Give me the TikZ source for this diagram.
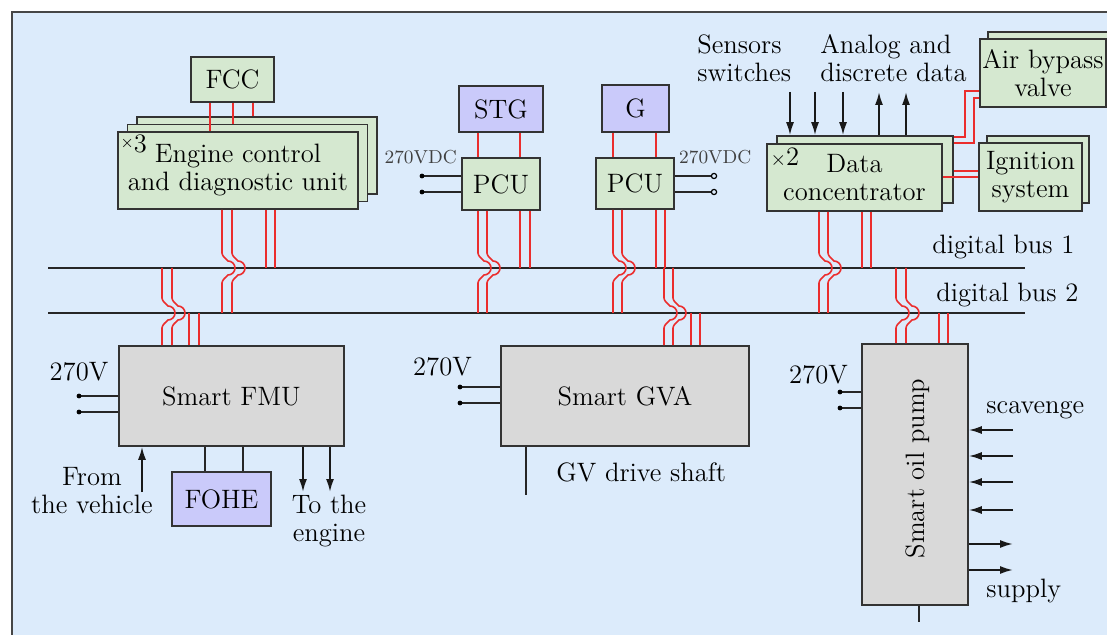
\documentclass[tikz,border=0pt]{standalone}
\usepackage{fontspec}
\usepackage{tikz}
\usetikzlibrary{arrows.meta,calc,positioning}

\definecolor{panelblue}{RGB}{220,235,251}
\definecolor{framegray}{RGB}{70,70,70}
\definecolor{boxgreen}{RGB}{213,232,208}
\definecolor{boxviolet}{RGB}{202,202,250}
\definecolor{boxgray}{RGB}{217,217,217}
\definecolor{linkred}{RGB}{235,45,45}

\tikzset{
  box/.style={draw=black!80,line width=0.8pt,inner sep=0pt,align=center,font=\fontsize{13.3}{14}\selectfont},
  greenbox/.style={box,fill=boxgreen},
  violetbox/.style={box,fill=boxviolet},
  graybox/.style={box,fill=boxgray},
  lbl/.style={inner sep=0pt,align=center,font=\fontsize{13.3}{14}\selectfont},
  smalllbl/.style={inner sep=0pt,font=\fontsize{9.4}{11}\selectfont,text=black!75},
  redline/.style={draw=linkred,line width=0.8pt},
  busline/.style={draw=black!85,line width=1.3pt},
  wire/.style={draw=black!85,line width=0.9pt},
  lead/.style={draw=black!85,line width=0.7pt},
  sigarrow/.style={draw=black!90,line width=0.9pt,-{Latex[length=6.5pt,width=4pt]}}
}

% red link that hops over a bus
\newcommand{\hopline}[4]{%
  \draw[redline] (#1,0 |- #2) -- ($(#1,0 |- #3)+(0,-15)$)
    .. controls +(0,3) and +(-2,-2) .. ++(6,8)
    arc[start angle=-90,end angle=90,radius=7]
    .. controls +(-2,2) and +(0,-3) .. ++(-6,8) -- (#1,0 |- #4);}

\begin{document}
\begin{tikzpicture}[x=0.5pt,y=-0.5pt]
\useasboundingbox (0,0) rectangle (1107,635);
\clip (0,0) rectangle (1107,635);
\filldraw[fill=panelblue,draw=framegray,line width=1pt] (12,12) rectangle (1140,660);

% buses
\coordinate (bus1w) at (48,268);
\coordinate (bus1e) at (1025,268);
\coordinate (bus2w) at (48,313);
\coordinate (bus2e) at (1025,313);
\draw[busline] (bus1w) -- (bus1e);
\draw[busline] (bus2w) -- (bus2e);
\node[lbl,anchor=west] (bus1lbl) at (932,247) {digital bus 1};
\node[lbl,anchor=west] (bus2lbl) at (936,295) {digital bus 2};

% engine control units
\node[greenbox,minimum width=41.5pt,minimum height=22.5pt] (fcc) at (232.5,79.5) {FCC};
\node[greenbox,minimum width=120pt,minimum height=38.5pt] (ecu3) at (257,155.5) {};
\node[greenbox,minimum width=120pt,minimum height=38.5pt] (ecu2) at (247.5,163) {};
\node[greenbox,minimum width=120pt,minimum height=38.5pt] (ecu1) at (238,170.5) {Engine control\\and diagnostic unit};
\node[lbl,anchor=north west,inner sep=1.5pt] (ecun) at (ecu1.north west) {\raisebox{0.45ex}{\fontsize{8}{8}\selectfont ×}3};

% starter generators
\node[violetbox,minimum width=42pt,minimum height=23pt] (stg) at (501,109) {STG};
\node[greenbox,minimum width=39pt,minimum height=26pt] (pcu1) at (501,184) {PCU};
\node[violetbox,minimum width=33.5pt,minimum height=23.5pt] (gen) at (635.5,108.5) {G};
\node[greenbox,minimum width=39pt,minimum height=25.5pt] (pcu2) at (635,183.5) {PCU};
\node[smalllbl,left=2pt of pcu1.north west] (pcu1v) {270VDC};
\node[smalllbl,right=2pt of pcu2.north east] (pcu2v) {270VDC};

% data concentrator
\node[greenbox,minimum width=88pt,minimum height=33.5pt] (dc2) at (865,169.5) {};
\node[greenbox,minimum width=87.5pt,minimum height=33.5pt] (dc1) at (854.5,177.5) {Data\\concentrator};
\node[lbl,anchor=north west,inner sep=2pt] (dcn) at (dc1.north west) {{\fontsize{10}{10}\selectfont ×}2};
\node[greenbox,minimum width=63pt,minimum height=34pt] (abv2) at (1051,66) {};
\node[greenbox,minimum width=63pt,minimum height=34pt] (abv1) at (1043,73) {Air bypass\\valve};
\node[greenbox,minimum width=51pt,minimum height=33.5pt] (ign2) at (1038,169.5) {};
\node[greenbox,minimum width=51.5pt,minimum height=34pt] (ign1) at (1030.5,177) {Ignition\\system};
\node[lbl,align=left,anchor=west] (senlbl) at (697,58) {Sensors\\switches};
\node[lbl,align=left,anchor=west] (analbl) at (820,58) {Analog and\\discrete data};

% smart actuators
\node[graybox,minimum width=112.5pt,minimum height=50pt] (fmu) at (231.5,396) {Smart FMU};
\node[violetbox,minimum width=49.5pt,minimum height=27pt] (fohe) at (221.5,499) {FOHE};
\node[graybox,minimum width=124pt,minimum height=50pt] (gva) at (625,396) {Smart GVA};
\node[graybox,minimum width=53pt,minimum height=130.5pt] (pump) at (915,474.5) {};
\node[lbl,rotate=90] (pumplbl) at ([shift={(1.5pt,3pt)}]pump.center) {Smart oil pump};

\node[lbl] (fmuv) at (79,372) {270V};
\node[lbl] (gvav) at (442.5,367) {270V};
\node[lbl] (pumpv) at (818.5,375) {270V};
\node[lbl] (vehlbl) at (92,491) {From\\the vehicle};
\node[lbl] (englbl) at (329,521) {To the\\engine};
\node[lbl,anchor=west] (shaftlbl) at (556,472) {GV drive shaft};
\node[lbl,anchor=west] (scavlbl) at (986,410) {scavenge};
\node[lbl,anchor=west] (suplbl) at (986,591) {supply};

% power leads
\coordinate (p1a) at (422,176);
\coordinate (p1b) at (422,192);
\coordinate (p2a) at (714,176);
\coordinate (p2b) at (714,192);
\coordinate (fva) at (79,396);
\coordinate (fvb) at (79,412);
\coordinate (gvva) at (460,387);
\coordinate (gvvb) at (460,403);
\coordinate (pva) at (840,392);
\coordinate (pvb) at (840,408);
\draw[lead] (p1a -| pcu1.west) -- (p1a);
\draw[lead] (p1b -| pcu1.west) -- (p1b);
\draw[lead] (p2a -| pcu2.east) -- (p2a);
\draw[lead] (p2b -| pcu2.east) -- (p2b);
\draw[lead] (fva -| fmu.west) -- (fva);
\draw[lead] (fvb -| fmu.west) -- (fvb);
\draw[lead] (gvva -| gva.west) -- (gvva);
\draw[lead] (gvvb -| gva.west) -- (gvvb);
\draw[lead] (pva -| pump.west) -- (pva);
\draw[lead] (pvb -| pump.west) -- (pvb);
\fill (p1a) circle (1.2pt);
\fill (p1b) circle (1.2pt);
\filldraw[fill=panelblue,line width=0.6pt] (p2a) circle (1.3pt);
\filldraw[fill=panelblue,line width=0.6pt] (p2b) circle (1.3pt);
\fill (fva) circle (1.2pt);
\fill (fvb) circle (1.2pt);
\fill (gvva) circle (1.2pt);
\fill (gvvb) circle (1.2pt);
\fill (pva) circle (1.2pt);
\fill (pvb) circle (1.2pt);

% signals
\coordinate (sen1) at (790,92);
\coordinate (sen2) at (815,92);
\coordinate (sen3) at (843,92);
\coordinate (ana1) at (879,92);
\coordinate (ana2) at (906,92);
\draw[sigarrow] (sen1) -- (sen1 |- dc2.north);
\draw[sigarrow] (sen2) -- (sen2 |- dc2.north);
\draw[sigarrow] (sen3) -- (sen3 |- dc2.north);
\draw[sigarrow] (ana1 |- dc2.north) -- (ana1);
\draw[sigarrow] (ana2 |- dc2.north) -- (ana2);

\coordinate (veh) at (142,492);
\coordinate (eng1) at (303,492);
\coordinate (eng2) at (330,492);
\draw[sigarrow] (veh) -- (veh |- fmu.south);
\draw[sigarrow] (eng1 |- fmu.south) -- (eng1);
\draw[sigarrow] (eng2 |- fmu.south) -- (eng2);
\draw[wire] (205,0 |- fmu.south) -- (205,0 |- fohe.north);
\draw[wire] (243,0 |- fmu.south) -- (243,0 |- fohe.north);

\coordinate (shaft) at (526,495);
\coordinate (stub) at (919,622);
\draw[wire] (shaft |- gva.south) -- (shaft);
\draw[wire] (stub |- pump.south) -- (stub);

\coordinate (sc1) at (1013,430);
\coordinate (sc2) at (1013,456);
\coordinate (sc3) at (1013,482);
\coordinate (sc4) at (1013,510);
\coordinate (su1) at (1013,544);
\coordinate (su2) at (1013,570);
\draw[sigarrow] (sc1) -- (sc1 -| pump.east);
\draw[sigarrow] (sc2) -- (sc2 -| pump.east);
\draw[sigarrow] (sc3) -- (sc3 -| pump.east);
\draw[sigarrow] (sc4) -- (sc4 -| pump.east);
\draw[sigarrow] (su1 -| pump.east) -- (su1);
\draw[sigarrow] (su2 -| pump.east) -- (su2);

% red links
\draw[redline] (210,0 |- fcc.south) -- (210,0 |- ecu1.north);
\draw[redline] (233,0 |- fcc.south) -- (233,0 |- ecu2.north);
\draw[redline] (253,0 |- fcc.south) -- (253,0 |- ecu3.north);
\hopline{222}{ecu1.south}{bus1w}{bus2w}
\hopline{232}{ecu1.south}{bus1w}{bus2w}
\draw[redline] (266,0 |- ecu1.south) -- (266,0 |- bus1w);
\draw[redline] (275,0 |- ecu1.south) -- (275,0 |- bus1w);
\hopline{162}{bus1w}{bus2w}{fmu.north}
\hopline{172}{bus1w}{bus2w}{fmu.north}
\draw[redline] (189,0 |- bus2w) -- (189,0 |- fmu.north);
\draw[redline] (199,0 |- bus2w) -- (199,0 |- fmu.north);

\draw[redline] (478,0 |- stg.south) -- (478,0 |- pcu1.north);
\draw[redline] (520,0 |- stg.south) -- (520,0 |- pcu1.north);
\hopline{478}{pcu1.south}{bus1w}{bus2w}
\hopline{487}{pcu1.south}{bus1w}{bus2w}
\draw[redline] (520,0 |- pcu1.south) -- (520,0 |- bus1w);
\draw[redline] (530,0 |- pcu1.south) -- (530,0 |- bus1w);

\draw[redline] (613,0 |- gen.south) -- (613,0 |- pcu2.north);
\draw[redline] (656,0 |- gen.south) -- (656,0 |- pcu2.north);
\hopline{613}{pcu2.south}{bus1w}{bus2w}
\hopline{622}{pcu2.south}{bus1w}{bus2w}
\draw[redline] (656,0 |- pcu2.south) -- (656,0 |- bus1w);
\draw[redline] (665,0 |- pcu2.south) -- (665,0 |- bus1w);
\hopline{664}{bus1w}{bus2w}{gva.north}
\hopline{673}{bus1w}{bus2w}{gva.north}
\draw[redline] (691,0 |- bus2w) -- (691,0 |- gva.north);
\draw[redline] (700,0 |- bus2w) -- (700,0 |- gva.north);

\hopline{819}{dc1.south}{bus1w}{bus2w}
\hopline{828}{dc1.south}{bus1w}{bus2w}
\draw[redline] (862,0 |- dc1.south) -- (862,0 |- bus1w);
\draw[redline] (871,0 |- dc1.south) -- (871,0 |- bus1w);
\hopline{896}{bus1w}{bus2w}{pump.north}
\hopline{906}{bus1w}{bus2w}{pump.north}
\draw[redline] (939,0 |- bus2w) -- (939,0 |- pump.north);
\draw[redline] (948,0 |- bus2w) -- (948,0 |- pump.north);

\draw[redline] (dc2.east |- 0,137) -| (965,91) -- (abv1.west |- 0,91);
\draw[redline] (dc2.east |- 0,143) -| (974,98) -- (abv1.west |- 0,98);
\draw[redline] (dc2.east |- 0,171) -- (ign1.west |- 0,171);
\draw[redline] (dc1.east |- 0,177) -- (ign1.west |- 0,177);
\end{tikzpicture}
\end{document}
